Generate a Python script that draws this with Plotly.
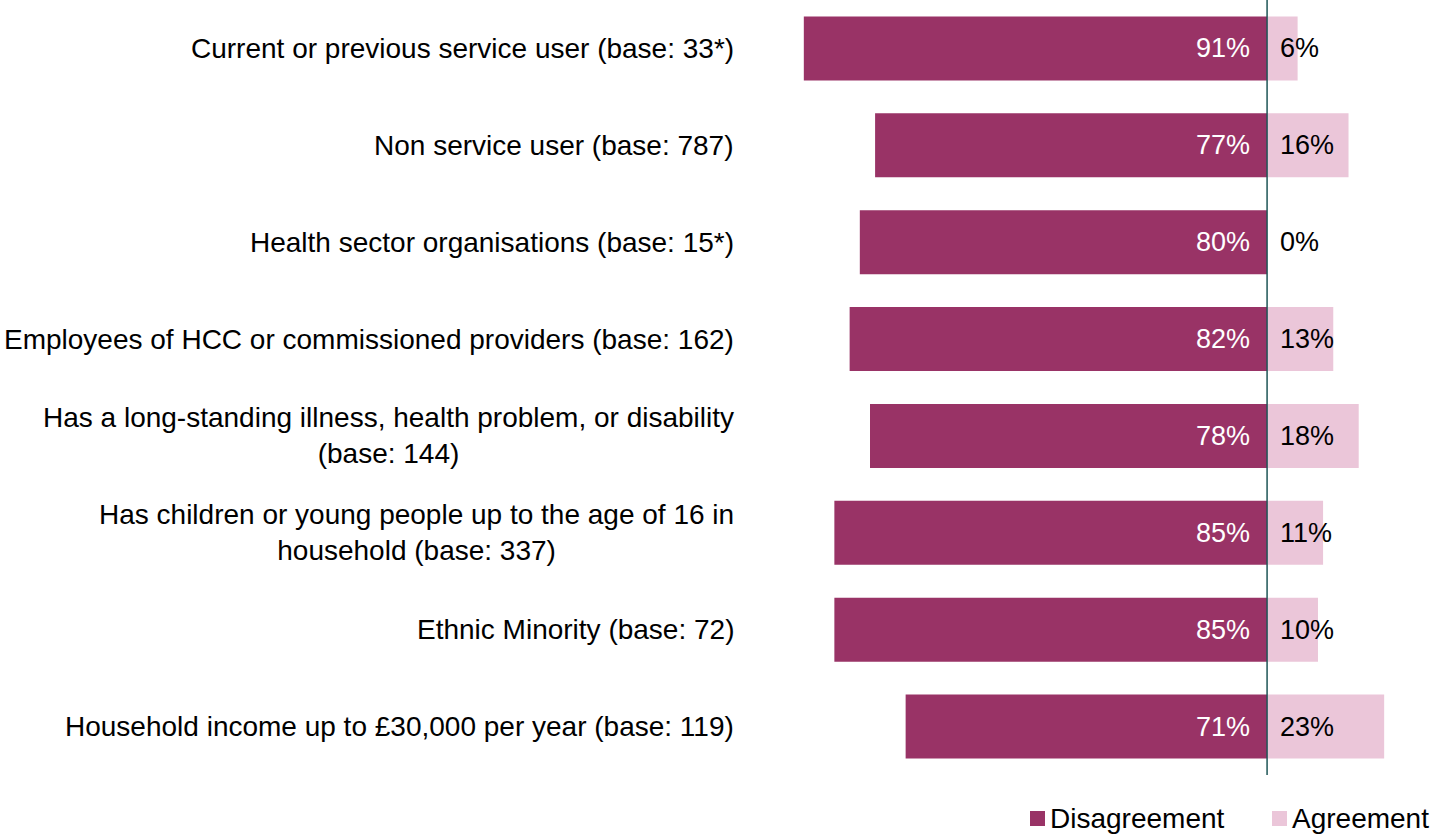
import plotly.graph_objects as go

# Respondent groups, top to bottom
groups = [
    "Current or previous service user (base: 33*)",
    "Non service user (base: 787)",
    "Health sector organisations (base: 15*)",
    "Employees of HCC or commissioned providers (base: 162)",
    "Has a long-standing illness, health problem, or disability<br>(base: 144)",
    "Has children or young people up to the age of 16 in<br>household (base: 337)",
    "Ethnic Minority (base: 72)",
    "Household income up to £30,000 per year (base: 119)",
]
disagreement = [91, 77, 80, 82, 78, 85, 85, 71]
agreement = [6, 16, 0, 13, 18, 11, 10, 23]
series_names = ["Disagreement", "Agreement"]

DIS_COL = "#993366"
AGR_COL = "#ebc6d9"
FONT = "Liberation Sans, Arial, sans-serif"
FS_LABEL = 28
FS_VALUE = 27

W, H = 1431, 835
M_L, M_R, M_T, M_B = 758, 0, 0, 60
PW, PH = W - M_L - M_R, H - M_T - M_B


def px_to_paper(px, py):
    """Convert page pixel coordinates to paper coordinates."""
    return (px - M_L) / PW, (H - M_B - py) / PH


ids = list(range(len(groups)))

fig = go.Figure()
fig.add_trace(go.Bar(
    y=ids, x=[-v for v in disagreement], orientation="h",
    name=series_names[0], marker=dict(color=DIS_COL, line=dict(width=0)),
    hoverinfo="skip",
))
fig.add_trace(go.Bar(
    y=ids, x=agreement, orientation="h",
    name=series_names[1], marker=dict(color=AGR_COL, line=dict(width=0)),
    hoverinfo="skip",
))

annotations = []
for i, (g, d, a) in enumerate(zip(groups, disagreement, agreement)):
    # group label to the left of the plot
    annotations.append(dict(
        x=0, xref="paper", y=i, yref="y", text=g, showarrow=False,
        xanchor="right", yanchor="middle", align="center", xshift=-22,
        font=dict(family=FONT, size=FS_LABEL, color="#000000"),
    ))
    # disagreement value, inside the bar next to the zero line
    annotations.append(dict(
        x=0, xref="x", y=i, yref="y", text=f"{d}%", showarrow=False,
        xanchor="right", yanchor="middle", xshift=-15,
        font=dict(family=FONT, size=FS_VALUE, color="#ffffff"),
    ))
    # agreement value, just right of the zero line
    annotations.append(dict(
        x=0, xref="x", y=i, yref="y", text=f"{a}%", showarrow=False,
        xanchor="left", yanchor="middle", xshift=11,
        font=dict(family=FONT, size=FS_VALUE, color="#000000"),
    ))

# Legend drawn as swatches plus labels below the plot, right-aligned
shapes = [dict(
    type="line", xref="x", yref="paper", x0=0, x1=0, y0=0, y1=1,
    line=dict(color="#1d5556", width=1.5), layer="above",
)]
legend_items = [(series_names[0], DIS_COL, 1030), (series_names[1], AGR_COL, 1272)]
for name, col, sx in legend_items:
    x0, y0 = px_to_paper(sx, 826)
    x1, y1 = px_to_paper(sx + 15, 811)
    shapes.append(dict(type="rect", xref="paper", yref="paper",
                       x0=x0, x1=x1, y0=y0, y1=y1,
                       fillcolor=col, line=dict(width=0)))
    tx, ty = px_to_paper(sx + 18, 818)
    annotations.append(dict(
        x=tx, xref="paper", y=ty, yref="paper", text=name, showarrow=False,
        xanchor="left", yanchor="middle",
        font=dict(family=FONT, size=FS_LABEL, color="#000000"),
    ))

fig.update_layout(
    width=W, height=H,
    margin=dict(l=M_L, r=M_R, t=M_T, b=M_B),
    paper_bgcolor="white", plot_bgcolor="white",
    barmode="relative", bargap=0.34,
    font=dict(family=FONT, size=FS_LABEL, color="#000000"),
    xaxis=dict(range=[-100, 32.2], visible=False, fixedrange=True),
    yaxis=dict(range=[len(groups) - 0.5, -0.5], visible=False, fixedrange=True),
    showlegend=False,
    annotations=annotations,
    shapes=shapes,
)

fig.write_html("out.html")
